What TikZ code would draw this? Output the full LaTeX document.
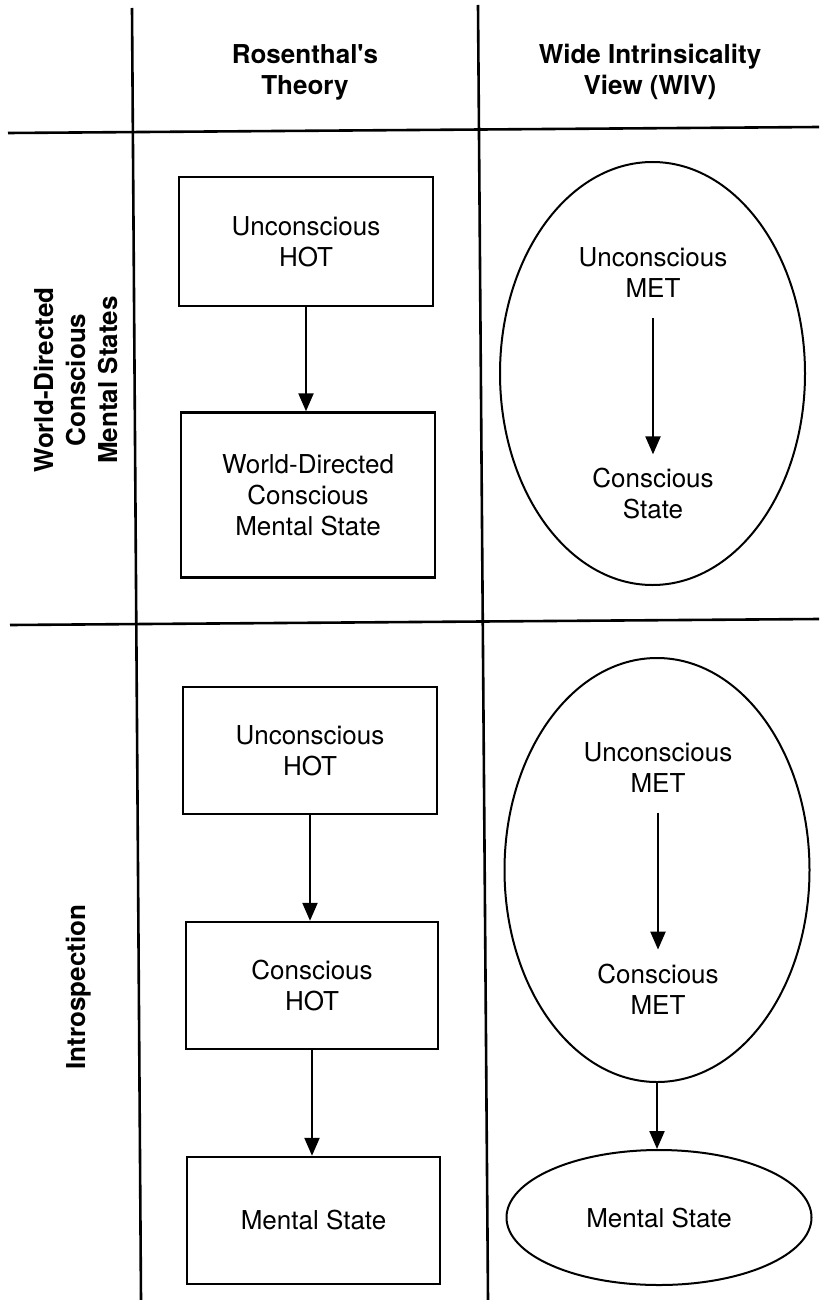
\documentclass[tikz,border=0pt]{standalone}
\usepackage{fontspec}
\setmainfont{TeX Gyre Heros}
\usetikzlibrary{arrows.meta,shapes.geometric}

\tikzset{
  rule/.style={line width=2.6pt},
  statebox/.style={draw, line width=2.4pt, rectangle, align=center,
    font=\fontsize{26}{31}\selectfont},
  stateoval/.style={draw, line width=2pt, ellipse, inner sep=0pt},
  plain/.style={align=center, inner sep=0pt, font=\fontsize{26}{31}\selectfont},
  head/.style={align=center, inner sep=0pt, font=\fontsize{26}{31}\selectfont\bfseries},
  rowhead/.style={align=center, inner sep=0pt, rotate=90,
    font=\fontsize{26}{32}\selectfont\bfseries},
  flow/.style={line width=2.2pt, -{Triangle[length=18pt,width=15pt]}}
}

\begin{document}
\begin{tikzpicture}[x=1pt,y=-1pt]
\useasboundingbox (0,0) rectangle (819,1300);

% table rules
\coordinate (v1top) at (132,8);    \coordinate (v1bot) at (141,1300);
\coordinate (v2top) at (478,5);    \coordinate (v2bot) at (488,1300);
\coordinate (h1left) at (8,133);   \coordinate (h1right) at (819,127);
\coordinate (h2left) at (10,625);  \coordinate (h2right) at (819,619);
\draw[rule] (v1top) -- (v1bot);
\draw[rule] (v2top) -- (v2bot);
\draw[rule] (h1left) -- (h1right);
\draw[rule] (h2left) -- (h2right);

% column headings
\node[head] (colR) at (305,72) {Rosenthal\textquotesingle s\\Theory};
\node[head] (colW) at (650,72) {Wide Intrinsicality\\View (WIV)};

% row headings
\node[rowhead] (rowW) at (76,380) {World-Directed\\Conscious\\Mental States};
\node[rowhead] (rowI) at (79,987) {Introspection};

% Rosenthal, world-directed
\node[statebox, minimum width=254pt, minimum height=129pt] (a1) at (306,241.5) {Unconscious\\HOT};
\node[statebox, minimum width=254pt, minimum height=165pt] (a2) at (308,495) {World-Directed\\Conscious\\Mental State};
\draw[flow] (a1.south) -- (a1.south |- a2.north);

% Rosenthal, introspection
\node[statebox, minimum width=254pt, minimum height=127pt] (b1) at (310,750.5) {Unconscious\\HOT};
\node[statebox, minimum width=252pt, minimum height=127pt] (b2) at (312,985.5) {Conscious\\HOT};
\node[statebox, minimum width=253pt, minimum height=127pt] (b3) at (313.5,1220.5) {Mental State};
\draw[flow] (b1.south) -- (b1.south |- b2.north);
\draw[flow] (b2.south) -- (b2.south |- b3.north);

% WIV, world-directed
\node[stateoval, minimum width=305pt, minimum height=423pt] (e1) at (652.5,373.5) {};
\node[plain] (e1top) at (653,272.5) {Unconscious\\MET};
\node[plain] (e1bot) at (653,494) {Conscious\\State};
\draw[flow, shorten <=20pt, shorten >=14pt] (e1top.south) -- (e1bot.north);

% WIV, introspection
\node[stateoval, minimum width=305pt, minimum height=424pt] (e2) at (657,870) {};
\node[plain] (e2top) at (658,767.5) {Unconscious\\MET};
\node[plain] (e2bot) at (658,989) {Conscious\\MET};
\draw[flow, shorten <=20pt, shorten >=14pt] (e2top.south) -- (e2bot.north);
\node[stateoval, minimum width=305pt, minimum height=135pt] (e3) at (659,1217.5) {};
\node[plain] (e3txt) at (659,1218) {Mental State};
\draw[flow] (e2.south) -- (e2.south |- e3.north);

\end{tikzpicture}
\end{document}
